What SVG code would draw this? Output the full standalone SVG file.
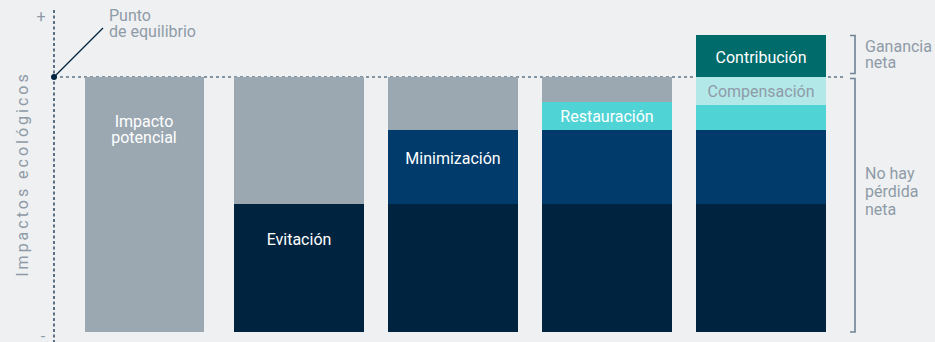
<svg xmlns="http://www.w3.org/2000/svg" width="935" height="342" viewBox="0 0 935 342">
<style>
.t{font-family:Roboto,"Liberation Sans",sans-serif;font-size:16px}
.w{fill:#ffffff;text-anchor:middle}
.g{fill:#8e9ba7}
.gray{fill:#9ba8b2}
.dark{fill:#00243f}
.mid{fill:#003b6b}
.cyan{fill:#4fd3d5}
.lcyan{fill:#b3e8e9}
.teal{fill:#006b6b}
.br{fill:none;stroke:#6f8396;stroke-width:1.6}
</style>
<rect width="935" height="342" fill="#eff0f2"/>
<g id="axes">
<line x1="54" y1="10" x2="54" y2="342" stroke="#2b4660" stroke-width="1.5" stroke-dasharray="3,2.5"/>
<line x1="54" y1="77" x2="843" y2="77" stroke="#5f7488" stroke-width="1.5" stroke-dasharray="3,3"/>
<line x1="54" y1="77" x2="103" y2="28" stroke="#00243f" stroke-width="1.2"/>
<circle cx="54" cy="77" r="3" fill="#00243f"/>
<text class="t g" x="41" y="22" text-anchor="middle" font-size="14">+</text>
<text class="t g" x="43" y="342" text-anchor="middle" font-size="13">-</text>
<text class="t g" x="109" y="21">Punto</text>
<text class="t g" x="109" y="37">de equilibrio</text>
<text class="t g" transform="translate(28,174) rotate(-90)" text-anchor="middle" font-size="18" letter-spacing="3">Impactos ecológicos</text>
</g>
<g id="bar1">
<rect class="gray" x="85" y="77" width="119" height="255"/>
<text class="t w" x="144" y="127">Impacto</text>
<text class="t w" x="144" y="143">potencial</text>
</g>
<g id="bar2">
<rect class="gray" x="234" y="77" width="130" height="127"/>
<rect class="dark" x="234" y="204" width="130" height="128"/>
<text class="t w" x="299" y="245">Evitación</text>
</g>
<g id="bar3">
<rect class="gray" x="388" y="77" width="130" height="53"/>
<rect class="mid" x="388" y="130" width="130" height="74"/>
<rect class="dark" x="388" y="204" width="130" height="128"/>
<text class="t w" x="453" y="164">Minimización</text>
</g>
<g id="bar4">
<rect class="gray" x="542" y="77" width="130" height="25"/>
<rect class="cyan" x="542" y="102" width="130" height="28"/>
<rect class="mid" x="542" y="130" width="130" height="74"/>
<rect class="dark" x="542" y="204" width="130" height="128"/>
<text class="t w" x="607" y="122">Restauración</text>
</g>
<g id="bar5">
<rect class="teal" x="696" y="35" width="130" height="42"/>
<rect class="lcyan" x="696" y="77" width="130" height="28"/>
<rect class="cyan" x="696" y="105" width="130" height="25"/>
<rect class="mid" x="696" y="130" width="130" height="74"/>
<rect class="dark" x="696" y="204" width="130" height="128"/>
<text class="t w" x="761" y="63">Contribución</text>
<text class="t" x="761" y="97" text-anchor="middle" fill="#8e9ba7">Compensación</text>
</g>
<g id="bracket-gain">
<path class="br" d="M850,35.5 H855 V73.5 H850"/>
<text class="t g" x="865" y="52">Ganancia</text>
<text class="t g" x="865" y="68">neta</text>
</g>
<g id="bracket-noloss">
<path class="br" d="M850,78.5 H855 V332 H850"/>
<text class="t g" x="865" y="179">No hay</text>
<text class="t g" x="865" y="197">pérdida</text>
<text class="t g" x="865" y="215">neta</text>
</g>
</svg>
